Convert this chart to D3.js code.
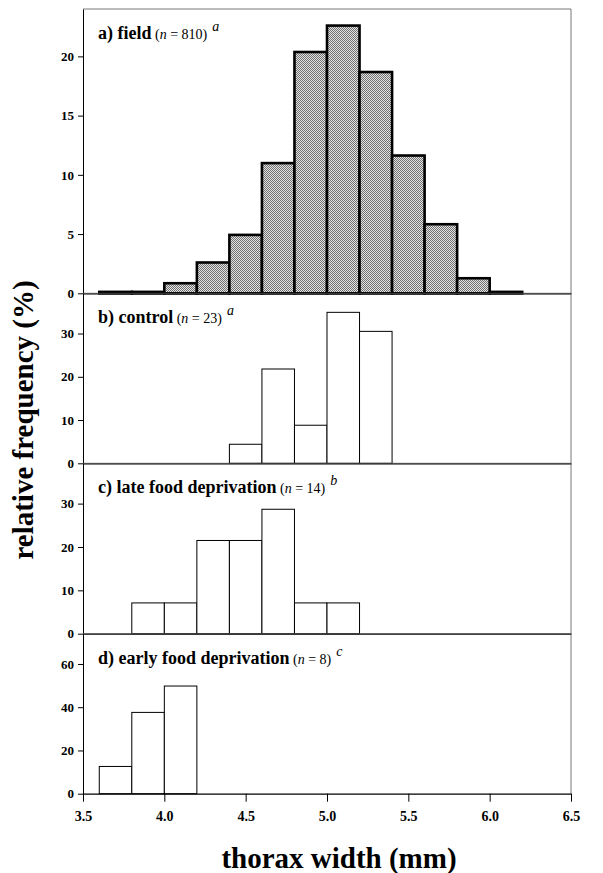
<!DOCTYPE html>
<html>
<head>
<meta charset="utf-8">
<script src="https://cdn.jsdelivr.net/npm/d3@7"></script>
<style>
  body { margin: 0; background: #fff; }
  svg, svg text { font-family: 'Liberation Serif', 'Times New Roman', serif; }
</style>
</head>
<body>
<div id="chart"></div>
<script>
// DATA (relative frequency in %, bins of 0.2 mm, keyed by lower edge)
var binWidth = 0.2;
var xTicks = [3.5, 4.0, 4.5, 5.0, 5.5, 6.0, 6.5];

var fieldBins = [3.6, 3.8, 4.0, 4.2, 4.4, 4.6, 4.8, 5.0, 5.2, 5.4, 5.6, 5.8, 6.0];
var fieldFreq = [0.12, 0.12, 0.85, 2.6, 4.93, 10.99, 20.37, 22.6, 18.68, 11.63, 5.83, 1.27, 0.12];

var controlBins = [4.4, 4.6, 4.8, 5.0, 5.2];
var controlFreq = [4.4, 21.8, 8.8, 34.9, 30.5];

var lateBins = [3.8, 4.0, 4.2, 4.4, 4.6, 4.8, 5.0];
var lateFreq = [7.1, 7.1, 21.5, 21.5, 28.7, 7.1, 7.1];

var earlyBins = [3.6, 3.8, 4.0];
var earlyFreq = [12.6, 37.6, 49.8];

var panelTitles = ["a) field", "b) control", "c) late food deprivation", "d) early food deprivation"];
var panelN = ["810", "23", "14", "8"];
var panelSup = ["a", "a", "b", "c"];
var panelYMax = [24, 39.3, 39.3, 74];
var panelYTicks = [[0, 5, 10, 15, 20], [0, 10, 20, 30], [0, 10, 20, 30], [0, 20, 40, 60]];

// LAYOUT
var svgWidth = 603, svgHeight = 873;
var left = 83, right = 571;
var panelEdges = [9, 293.3, 463.3, 633.7, 793.7];
var serif = "'Liberation Serif', 'Times New Roman', serif";

var svg = d3.select("#chart").append("svg")
    .attr("width", svgWidth)
    .attr("height", svgHeight)
    .attr("font-family", serif);

// stippled fill for the field panel
var pat = svg.append("defs").append("pattern")
    .attr("id", "stipple")
    .attr("width", 2).attr("height", 2)
    .attr("patternUnits", "userSpaceOnUse");
pat.append("rect").attr("width", 2).attr("height", 2).attr("fill", "#e4e4e4");
pat.append("rect").attr("width", 1).attr("height", 1).attr("fill", "#707070");
pat.append("rect").attr("x", 1).attr("y", 1).attr("width", 1).attr("height", 1).attr("fill", "#707070");

var x = d3.scaleLinear().domain([3.5, 6.5]).range([left, right]);

var panels = [
    { bins: fieldBins, freq: fieldFreq },
    { bins: controlBins, freq: controlFreq },
    { bins: lateBins, freq: lateFreq },
    { bins: earlyBins, freq: earlyFreq }
];

panels.forEach(function(p, i) {
    var top = panelEdges[i], bottom = panelEdges[i + 1];
    var y = d3.scaleLinear().domain([0, panelYMax[i]]).range([bottom, top]);
    var g = svg.append("g");

    // frame (top + right)
    g.append("line").attr("x1", left).attr("x2", right).attr("y1", top).attr("y2", top)
        .attr("stroke", "#555").attr("stroke-width", 0.8);
    g.append("line").attr("x1", right).attr("x2", right).attr("y1", top).attr("y2", bottom)
        .attr("stroke", "#555").attr("stroke-width", 0.8);

    var data = p.bins.map(function(b, k) { return { x0: b, v: p.freq[k] }; });
    var field = i === 0;

    g.selectAll("rect.bar")
        .data(data)
        .enter()
        .append("rect")
            .attr("class", "bar")
            .attr("x", function(d) { return x(d.x0); })
            .attr("y", function(d) { return y(d.v); })
            .attr("width", function(d) { return x(d.x0 + binWidth) - x(d.x0); })
            .attr("height", function(d) { return y(0) - y(d.v); })
        .attr("fill", field ? "url(#stipple)" : "#fff")
        .attr("stroke", "#000")
        .attr("stroke-width", field ? 2.6 : 1);

    // y axis
    var yAxis = g.append("g")
        .attr("transform", "translate(" + left + ",0)")
        .call(d3.axisLeft(y).tickValues(panelYTicks[i]).tickSize(5).tickPadding(4).tickSizeOuter(0));
    yAxis.attr("font-family", serif).attr("font-size", 13).attr("font-weight", "bold");
    yAxis.select(".domain").attr("stroke-width", 1);
    yAxis.selectAll("text").attr("fill", "#000");

    // zero line / x axis
    var xAxis = g.append("g")
        .attr("transform", "translate(0," + bottom + ")")
        .call(d3.axisBottom(x).tickValues(i === 3 ? xTicks : []).tickSize(8).tickSizeOuter(0)
            .tickFormat(d3.format(".1f")).tickPadding(9));
    xAxis.attr("font-family", serif).attr("font-size", 14).attr("font-weight", "bold");
    xAxis.select(".domain").attr("stroke-width", 1.2);
    xAxis.selectAll("text").attr("fill", "#000");

    // panel label
    var label = g.append("text")
        .attr("x", 98)
        .attr("y", top + 30)
        .attr("font-family", serif)
        .attr("fill", "#000");
    label.append("tspan").attr("font-weight", "bold").attr("font-size", "18px").text(panelTitles[i]);
    label.append("tspan").attr("font-size", "14px").text(" (");
    label.append("tspan").attr("font-size", "14px").attr("font-style", "italic").text("n");
    label.append("tspan").attr("font-size", "14px").text(" = " + panelN[i] + ")");
    label.append("tspan").attr("font-size", "14px").attr("font-style", "italic")
        .attr("dx", 5).attr("dy", -8).text(panelSup[i]);
});

// AXIS TITLES
svg.append("text")
    .attr("x", 339)
    .attr("y", 868)
    .attr("text-anchor", "middle")
    .attr("font-weight", "bold")
    .attr("font-size", "29px")
    .text("thorax width (mm)");

svg.append("text")
    .attr("transform", "translate(33,420) rotate(-90)")
    .attr("text-anchor", "middle")
    .attr("font-weight", "bold")
    .attr("font-size", "29px")
    .text("relative frequency (%)");
</script>
</body>
</html>
